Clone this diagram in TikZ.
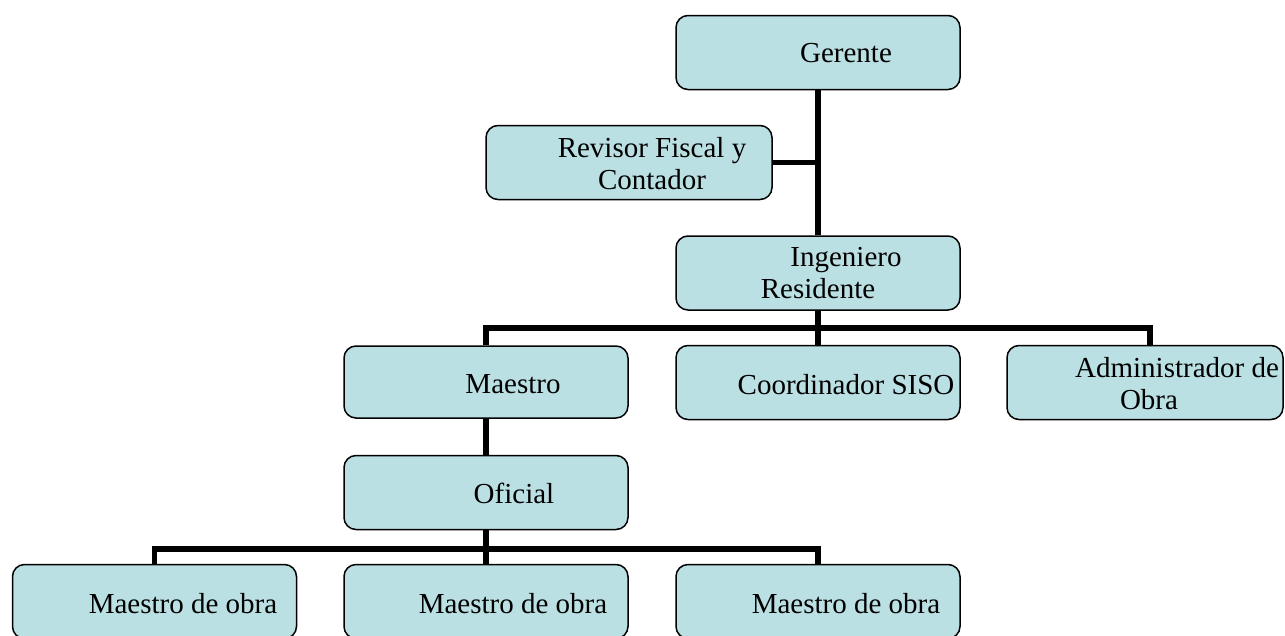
\documentclass[tikz,border=0pt]{standalone}
\usepackage{fontspec}
\setmainfont{Liberation Serif}
\usetikzlibrary{calc}
\definecolor{boxfill}{HTML}{BBE0E3}
\tikzset{
  orgbox/.style={draw=black,line width=1.5pt,fill=boxfill,rounded corners=12pt,
                 minimum width=284pt,minimum height=74pt,inner sep=0pt},
  orgtext/.style={font=\fontsize{29}{32}\selectfont,align=center,inner sep=0pt},
  link/.style={line width=5.5pt}
}

\begin{document}
\begin{tikzpicture}[x=1pt,y=-1pt]
\useasboundingbox (0,0) rectangle (1285,635);
% boxes
\node[orgbox] (gerente) at (818,52.5) {};
\node[orgbox,minimum width=286pt] (revisor) at (629,162.5) {};
\node[orgbox] (ingeniero) at (818,273) {};
\node[orgbox,minimum height=72pt] (maestro) at (486,382) {};
\node[orgbox] (siso) at (818,382.5) {};
\node[orgbox,minimum width=276pt] (admin) at (1145,382.5) {};
\node[orgbox] (oficial) at (486,492.5) {};
\node[orgbox] (obra1) at (154.5,601.5) {};
\node[orgbox] (obra2) at (486,601.5) {};
\node[orgbox] (obra3) at (818,601.5) {};
% texts
\node[orgtext] (gerente-t) at (846,53.5) {Gerente};
\node[orgtext] (revisor-t) at (652,163.5) {Revisor Fiscal y\\Contador};
\node[orgtext] (ingeniero-t) at (818,273.5) {\hspace*{56pt}Ingeniero\\Residente};
\node[orgtext] (maestro-t) at (513,384) {Maestro};
\node[orgtext] (siso-t) at (846,384.5) {Coordinador SISO};
\node[orgtext] (admin-t) at (1149,384) {\hspace*{56pt}Administrador de\\Obra};
\node[orgtext] (oficial-t) at (514,493) {Oficial};
\node[orgtext] (obra1-t) at (183,604) {Maestro de obra};
\node[orgtext] (obra2-t) at (513,604) {Maestro de obra};
\node[orgtext] (obra3-t) at (846,604) {Maestro de obra};
% connectors
\coordinate (busA) at (818,328);
\coordinate (busB) at (486,549);
\draw[link] (gerente) -- (ingeniero);
\draw[link] (revisor.east) -- (revisor.east -| gerente.south);
\draw[link] (ingeniero) -- (busA);
\draw[link] (maestro.north) |- (busA) -| ([xshift=5pt]admin.north);
\draw[link] (busA) -- (siso.north);
\draw[link] (maestro) -- (oficial);
\draw[link] (oficial) -- (busB);
\draw[link] (obra1.north) |- (busB) -| (obra3.north);
\draw[link] (busB) -- (obra2.north);
\end{tikzpicture}
\end{document}
